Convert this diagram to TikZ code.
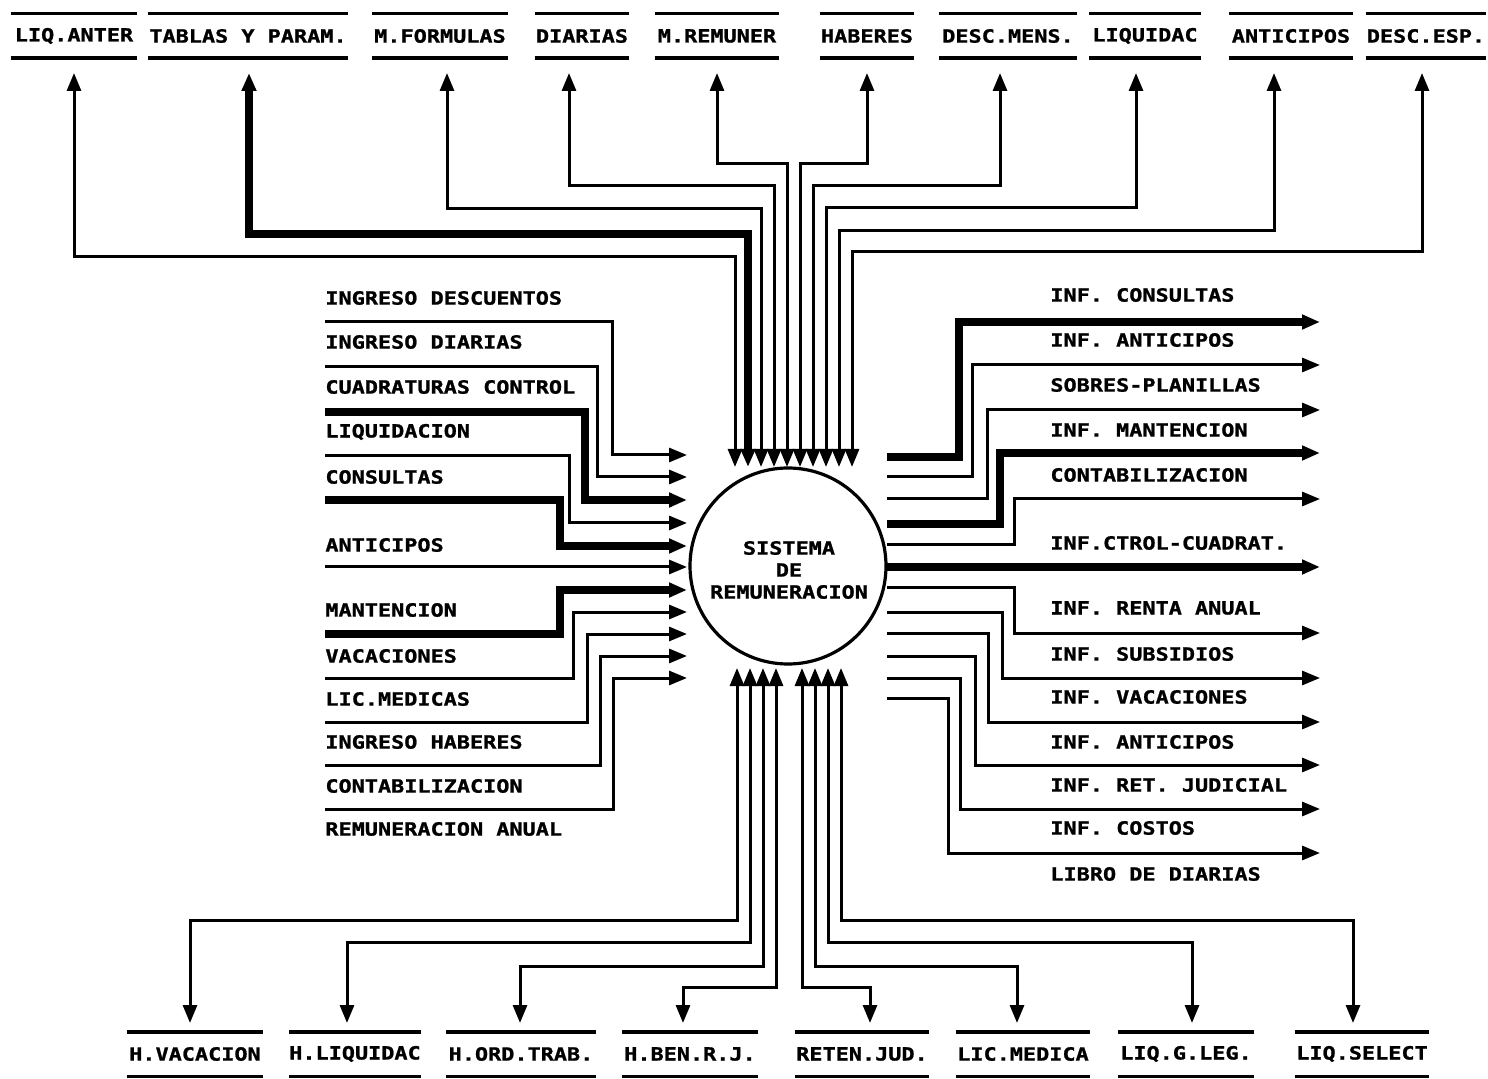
\documentclass[tikz,border=0pt]{standalone}
\usepackage{fontspec}
\newfontfamily\dmfont[FakeStretch=1.2, BoldFeatures={FakeBold=1.2}]{DejaVu Sans Mono}
\usetikzlibrary{arrows.meta}
\begin{document}
\begin{tikzpicture}[x=0.5pt,y=-0.5pt,
  >={Triangle[length=9pt,width=7pt]},
  txt/.style={font=\dmfont\bfseries\fontsize{9.1pt}{11pt}\selectfont, inner sep=0pt},
  lbl/.style={txt, anchor=west},
  store/.style={txt, minimum width=#1*0.5pt, minimum height=22pt},
  bar/.style={line width=1.9pt},
  fl/.style={line width=1.5pt},
  fk/.style={line width=4pt},
  sysc/.style={circle, draw, line width=1.6pt, minimum size=98pt, inner sep=0pt},
  syst/.style={txt, align=center}]
\useasboundingbox (0,0) rectangle (1488,1079);

% central process
\node[sysc] (sys) at (788,566) {};
\node[syst] (systxt) at (789,570) {SISTEMA\\DE\\REMUNERACION};

% top stores
\foreach \i/\cx/\w/\t in {1/74/126/LIQ.ANTER, 2/248/200/TABLAS Y PARAM., 3/440/135/M.FORMULAS,
  4/582/94/DIARIAS, 5/717/124/M.REMUNER, 6/867/94/HABERES, 7/1008/137/DESC.MENS.,
  8/1145/111/LIQUIDAC, 9/1291/124/ANTICIPOS, 10/1426/120/DESC.ESP.}
  \node[store=\w] (t\i) at (\cx,36) {\t};
\foreach \i in {1,...,10}
  \draw[bar] (t\i.north west) -- (t\i.north east) (t\i.south west) -- (t\i.south east);

% bottom stores
\foreach \i/\cx/\w/\t in {1/195/136/H.VACACION, 2/355/131/H.LIQUIDAC, 3/521/149/H.ORD.TRAB.,
  4/690/136/H.BEN.R.J., 5/862/133/RETEN.JUD., 6/1023/134/LIC.MEDICA,
  7/1186/136/LIQ.G.LEG., 8/1362/134/LIQ.SELECT}
  \node[store=\w] (b\i) at (\cx,1054) {\t};
\foreach \i in {1,...,8}
  \draw[bar] (b\i.north west) -- (b\i.north east) (b\i.south west) -- (b\i.south east);

% top connectors
\foreach \i/\ax/\hy/\vx/\s in {1/74/257/735/fl, 2/249/234/748/fk, 3/447/209/761/fl,
  4/569/186/774/fl, 5/717/164/787/fl, 6/867/164/800/fl, 7/1000/186/813/fl,
  8/1136/208/826/fl, 9/1274/231/839/fl, 10/1422/252/852/fl}{
  \coordinate (ta\i) at (\ax,73);
  \coordinate (tk\i) at (\vx,\hy);
  \coordinate (tc\i) at (\vx,467);
  \draw[\s,<->] (ta\i) |- (tk\i) -- (tc\i);
}

% bottom connectors
\foreach \i/\vx/\hy/\ax in {1/737/920/190, 2/750/942/347, 3/763/966/520, 4/776/987/683,
  5/802/987/870, 6/815/966/1017, 7/828/942/1192, 8/841/920/1353}{
  \coordinate (bc\i) at (\vx,668);
  \coordinate (bk\i) at (\ax,\hy);
  \coordinate (ba\i) at (\ax,1023);
  \draw[fl,<->] (bc\i) |- (bk\i) -- (ba\i);
}

% left labels
\foreach \i/\y/\t in {1/298/INGRESO DESCUENTOS, 2/342/INGRESO DIARIAS, 3/387/CUADRATURAS CONTROL,
  4/432/LIQUIDACION, 5/477/CONSULTAS, 6/545/ANTICIPOS, 7/610/MANTENCION, 8/656/VACACIONES,
  9/699/LIC.MEDICAS, 10/742/INGRESO HABERES, 11/786/CONTABILIZACION, 12/829/REMUNERACION ANUAL}
  \node[lbl] (l\i) at (325,\y) {\t};

% left connectors
\foreach \i/\yl/\tx/\ya/\s in {1/322/612/455/fl, 2/367/597/477/fl, 3/412/585/500/fk,
  4/456/569/523/fl, 5/500/560/546/fk, 7/634/560/590/fk, 8/678/573/612/fl,
  9/722/587/634/fl, 10/765/600/656/fl, 11/809/613/678/fl}{
  \coordinate (li\i) at (325,\yl);
  \coordinate (lk\i) at (\tx,\ya);
  \coordinate (lc\i) at (687,\ya);
  \draw[\s,->] (li\i) -| (lk\i) -- (lc\i);
}
\coordinate (li6) at (325,567);
\coordinate (lc6) at (687,567);
\draw[fl,->] (li6) -- (lc6);

% right labels
\foreach \i/\y/\t in {1/295/INF. CONSULTAS, 2/340/INF. ANTICIPOS, 3/385/SOBRES-PLANILLAS,
  4/430/INF. MANTENCION, 5/475/CONTABILIZACION, 6/543/INF.CTROL-CUADRAT.,
  7/608/INF. RENTA ANUAL, 8/654/INF. SUBSIDIOS, 9/697/INF. VACACIONES,
  10/742/INF. ANTICIPOS, 11/785/INF. RET. JUDICIAL, 12/828/INF. COSTOS, 13/874/LIBRO DE DIARIAS}
  \node[lbl] (r\i) at (1050,\y) {\t};

% right connectors
\foreach \i/\ys/\tx/\yo/\s in {1/457/959/322/fk, 2/477/972/365/fl, 3/499/987/410/fl,
  4/524/1000/453/fk, 5/545/1014/499/fl, 7/588/1014/633/fl, 8/612/1002/678/fl,
  9/633/988/722/fl, 10/656/975/765/fl, 11/678/960/809/fl, 12/698/948/853/fl}{
  \coordinate (rs\i) at (887,\ys);
  \coordinate (rk\i) at (\tx,\yo);
  \coordinate (re\i) at (1320,\yo);
  \draw[\s,->] (rs\i) -| (rk\i) -- (re\i);
}
\coordinate (rs6) at (887,567);
\coordinate (re6) at (1320,567);
\draw[fk,->] (rs6) -- (re6);
\end{tikzpicture}
\end{document}
